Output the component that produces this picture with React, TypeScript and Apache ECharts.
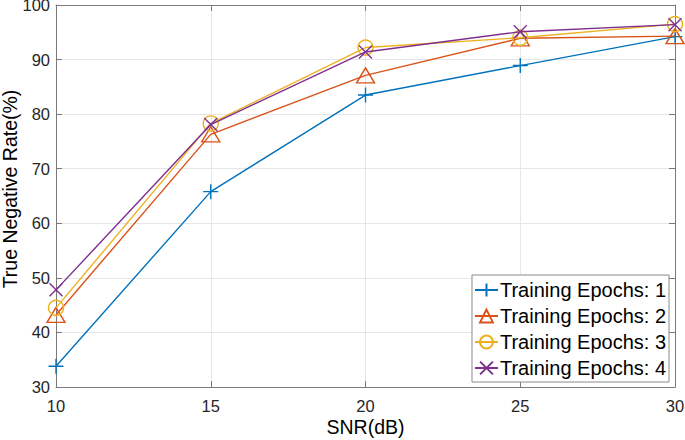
import React, { useEffect, useRef } from "react";
import * as echarts from "echarts";

const snr = [10, 15, 20, 25, 30];
const epochs1 = [33.8, 65.8, 83.5, 88.9, 94.2];
const epochs2 = [43.2, 76.3, 87.1, 93.9, 94.3];
const epochs3 = [44.5, 78.3, 92.2, 94.0, 96.5];
const epochs4 = [47.8, 78.1, 91.4, 95.1, 96.4];
const seriesNames = [
  "Training Epochs: 1",
  "Training Epochs: 2",
  "Training Epochs: 3",
  "Training Epochs: 4",
];
const colors = ["#0072BD", "#D95319", "#EDB120", "#7E2F8E"];
const symbols = [
  "path://M5,0 L5,10 M0,5 L10,5",
  "triangle",
  "circle",
  "path://M0,0 L10,10 M10,0 L0,10",
];
const symbolSizes: any[] = [15, [18, 15], 15, 13];

const FONT = "'Liberation Sans', Arial, Helvetica, sans-serif";

export default function App() {
  const ref = useRef<HTMLDivElement>(null);
  useEffect(() => {
    if (!ref.current) return;
    const chart = echarts.init(ref.current, undefined, { renderer: "svg" });
    const data = [epochs1, epochs2, epochs3, epochs4];
    const axisLine = { show: true, lineStyle: { color: "#7a7a7a", width: 1 } };
    const tick = { show: true, inside: true, length: 6, lineStyle: { color: "#7a7a7a" } };
    chart.setOption({
      animation: false,
      backgroundColor: "#ffffff",
      textStyle: { fontFamily: FONT },
      grid: { left: 56, right: 10, top: 5, bottom: 53, containLabel: false, outerBoundsMode: "none" },
      legend: {
        orient: "vertical",
        right: 16,
        bottom: 58,
        backgroundColor: "#ffffff",
        borderColor: "#8a8a8a",
        borderWidth: 1,
        borderRadius: 0,
        padding: [5, 3, 4, 2],
        itemWidth: 23,
        itemHeight: 16,
        itemGap: 6,
        textStyle: { fontSize: 20, color: "#000000", fontFamily: FONT, padding: [0, 0, 0, -3] },
        data: seriesNames,
      },
      xAxis: [
        {
          type: "value",
          min: 10,
          max: 30,
          interval: 5,
          name: "SNR(dB)",
          nameLocation: "middle",
          nameGap: 30,
          nameMoveOverlap: false,
          nameTextStyle: { fontSize: 19.5, color: "#000", fontFamily: FONT },
          axisLine,
          axisTick: tick,
          axisLabel: { fontSize: 16.5, color: "#262626", margin: 10, fontFamily: FONT },
          splitLine: { show: true, lineStyle: { color: "#e6e6e6", width: 1 } },
        },
        {
          type: "value",
          position: "top",
          min: 10,
          max: 30,
          interval: 5,
          axisLine,
          axisTick: tick,
          axisLabel: { show: false },
          splitLine: { show: false },
        },
      ],
      yAxis: [
        {
          type: "value",
          min: 30,
          max: 100,
          interval: 10,
          name: "True Negative Rate(%)",
          nameLocation: "middle",
          nameGap: 36,
          nameMoveOverlap: false,
          nameTextStyle: { fontSize: 19.5, color: "#000", fontFamily: FONT, padding: [0, 0, 0, 14] },
          axisLine,
          axisTick: tick,
          axisLabel: { fontSize: 16.5, color: "#262626", margin: 6, fontFamily: FONT },
          splitLine: { show: true, lineStyle: { color: "#e6e6e6", width: 1 } },
        },
        {
          type: "value",
          position: "right",
          min: 30,
          max: 100,
          interval: 10,
          axisLine,
          axisTick: tick,
          axisLabel: { show: false },
          splitLine: { show: false },
        },
      ],
      series: data.map((d, i) => ({
        name: seriesNames[i],
        type: "line",
        xAxisIndex: 0,
        yAxisIndex: 0,
        data: d.map((v, j) => [snr[j], v]),
        symbol: symbols[i],
        symbolSize: symbolSizes[i],
        showAllSymbol: true,
        lineStyle: { color: colors[i], width: 1.4 },
        itemStyle: { color: "rgba(0,0,0,0)", borderColor: colors[i], borderWidth: 1.4 },
        emphasis: { disabled: true },
        z: 2 + i,
      })),
    });
    return () => chart.dispose();
  }, []);
  return (
    <div
      ref={ref}
      style={{ position: "absolute", left: 0, top: 0, width: 685, height: 440 }}
    />
  );
}
